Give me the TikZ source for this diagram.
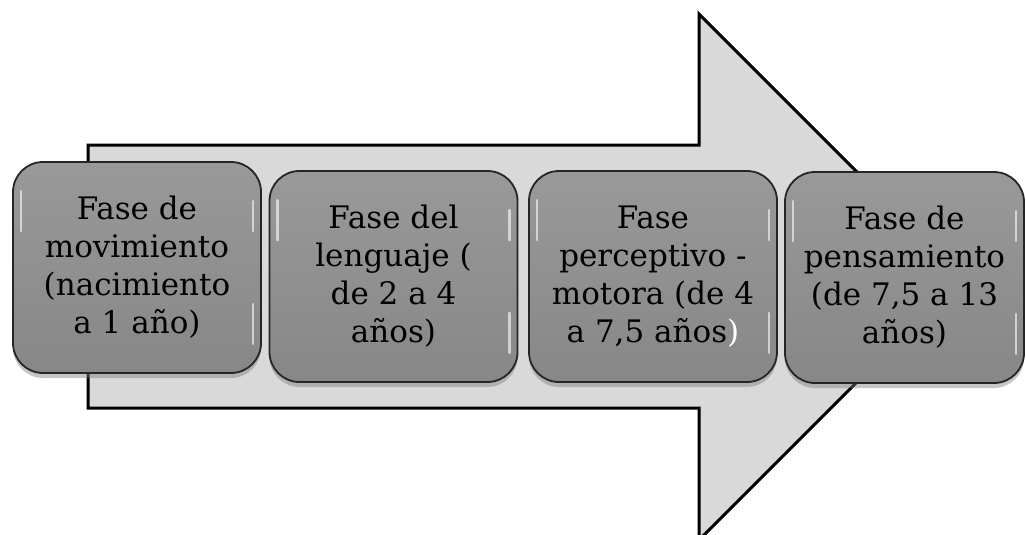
\documentclass[tikz,border=0pt]{standalone}
\usepackage{fontspec}
\setmainfont{DejaVu Serif}
\usetikzlibrary{shadows}

\begin{document}
\begin{tikzpicture}[x=1pt, y=-1pt,
  flecha/.style = {draw=black, line width=3pt, fill=black!15, line join=miter},
  fase/.style = {shape=rectangle, rounded corners=30pt,
    draw=black!85, line width=1.8pt, align=center,
    minimum width=248pt, minimum height=211pt,
    top color=black!40, bottom color=black!47,
    font=\fontsize{31}{38}\selectfont,
    drop shadow={shadow xshift=0pt, shadow yshift=-5pt, opacity=0.45}},
  ultima/.style = {minimum width=239pt},
  brillo/.style = {white, line width=2.5pt, line cap=round, opacity=0.6}]
\useasboundingbox (0,0) rectangle (1026,535);
\draw[flecha] (88,145) -- (699,145) -- (699,14) -- (962,277)
  -- (699,540) -- (699,408) -- (88,408) -- cycle;
\node[fase] (f1) at (137,267.5) {Fase de\\movimiento\\(nacimiento\\a 1 año)};
\node[fase] (f2) at (393.5,276.5) {Fase del\\lenguaje (\\de 2 a 4\\años)};
\node[fase] (f3) at (653,276.5) {Fase\\perceptivo -\\motora (de 4\\a 7,5 años\textcolor{white}{)}};
\node[fase, ultima] (f4) at (904.5,277.5) {Fase de\\pensamiento\\(de 7,5 a 13\\años)};
% reflejos
\foreach \n in {f1,f2,f3,f4}{
  \draw[brillo] ([xshift=9pt,yshift=-30pt]\n.north west) -- ++(0,-40pt);
  \draw[brillo] ([xshift=-9pt,yshift=-40pt]\n.north east) -- ++(0,-30pt);
  \draw[brillo] ([xshift=-9pt,yshift=30pt]\n.south east) -- ++(0,40pt);
}
\end{tikzpicture}
\end{document}
